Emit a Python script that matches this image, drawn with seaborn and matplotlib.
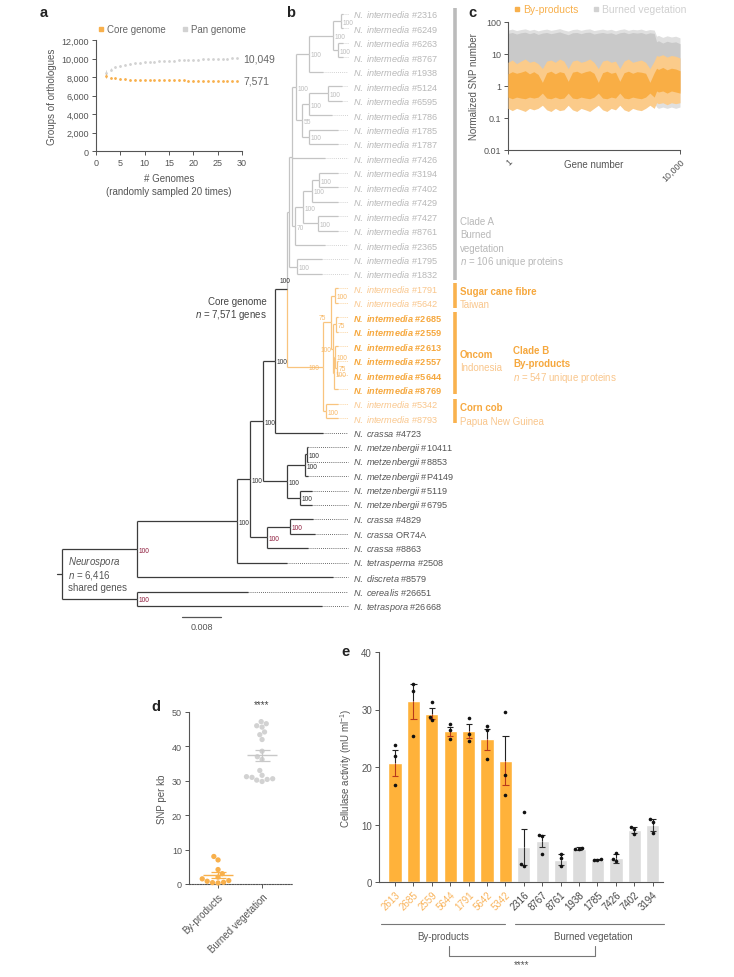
import numpy as np
import pandas as pd
import matplotlib
matplotlib.use("Agg")
import matplotlib.pyplot as plt
import seaborn as sns
from matplotlib.lines import Line2D

sns.set_theme(style="ticks")
plt.rcParams["font.family"] = ["Liberation Sans", "DejaVu Sans"]
plt.rcParams["mathtext.fontset"] = "custom"
plt.rcParams["mathtext.rm"] = "Liberation Sans"
plt.rcParams["mathtext.it"] = "Liberation Sans:italic"
plt.rcParams["mathtext.bf"] = "Liberation Sans:bold"
try:
    plt.rcParams["mathtext.bfit"] = "Liberation Sans:italic:bold"
except KeyError:
    pass

# ---------------- colours ----------------
ORANGE = "#FFB23A"
ORANGE_PT = "#F8B04C"
ORANGE_TREE = "#F9C47E"
ORANGE_TXT = "#F9C68C"
ORANGE_BOLD = "#F6A83E"
GREY_BAR = "#DCDCDC"
GREY_PT = "#D2D2D2"
GREY_TREE = "#C4C4C4"
GREY_TXT = "#B8B8B8"
DARK_TREE = "#3C3C3C"
MAROON = "#8E1C3C"
TICK = "#555555"
RED_ERR = "#B83A1A"

# ---------------- panel a data ----------------
A_GENOMES = [2, 3, 4, 5, 6, 7, 8, 9, 10, 11, 12, 13, 14, 15, 16, 17, 18, 19, 20, 21, 22, 23, 24, 25, 26, 27, 28, 29]
A_CORE = [8150, 7930, 7850, 7790, 7750, 7720, 7700, 7690, 7680, 7670, 7660, 7650, 7645, 7640,
          7635, 7630, 7625, 7620, 7615, 7610, 7605, 7600, 7595, 7590, 7585, 7580, 7575, 7571]
A_CORE_ERR = [220, 90, 60, 50, 40, 35, 30, 30, 25, 25, 25, 20, 20, 20, 20, 20, 20, 15, 15, 15, 15, 15, 15, 10, 10, 10, 10, 10]
A_PAN = [8450, 8800, 9050, 9200, 9320, 9410, 9480, 9540, 9590, 9630, 9670, 9700, 9730, 9760,
         9780, 9800, 9820, 9840, 9860, 9880, 9900, 9920, 9940, 9960, 9980, 10000, 10020, 10049]
A_PAN_ERR = [300, 160, 110, 90, 70, 60, 55, 50, 45, 40, 40, 35, 35, 30, 30, 30, 25, 25, 25, 25, 20, 20, 20, 20, 15, 15, 15, 10]

# ---------------- panel b data (tree) ----------------
LEAF_SPECIES = (["N. intermedia"] * 29 +
                ["N. crassa", "N. metzenbergii", "N. metzenbergii", "N. metzenbergii", "N. metzenbergii",
                 "N. metzenbergii", "N. crassa", "N. crassa", "N. crassa", "N. tetrasperma", "N. discreta",
                 "N. cerealis", "N. tetraspora"])
LEAF_IDS = ["#2316", "#6249", "#6263", "#8767", "#1938", "#5124", "#6595", "#1786", "#1785", "#1787",
            "#7426", "#3194", "#7402", "#7429", "#7427", "#8761", "#2365", "#1795", "#1832",
            "#1791", "#5642", "#2685", "#2559", "#2613", "#2557", "#5644", "#8769", "#5342", "#8793",
            "#4723", "#10411", "#8853", "#P4149", "#5119", "#6795", "#4829", "OR74A", "#8863",
            "#2508", "#8579", "#26651", "#26668"]
LEAF_STYLE = ["A"] * 19 + ["B", "B", "Bb", "Bb", "Bb", "Bb", "Bb", "Bb", "B", "B"] + ["D"] * 13
LEAF_END = [343, 343, 343, 343, 323, 342, 342, 332, 338, 338,
            325, 338, 338, 338, 338, 338, 325, 322, 322,
            338, 338, 338, 338, 338, 338, 338, 338, 338, 338,
            323, 308, 308, 308, 312, 312, 313, 315, 308, 287, 333, 248, 322]


def N(x, lab, grp, *kids, off=(2, 1)):
    return {"x": x, "lab": lab, "grp": grp, "kids": kids, "off": off}


CLADE_A = N(289, "", "A",
            N(292, "", "A",
              N(296, "100", "A",
                N(309, "100", "A", N(333, "100", "A", N(341, "100", "A", 0, 1), N(338, "100", "A", 2, 3)), 4),
                N(302, "55", "A", N(309, "100", "A", N(328, "100", "A", 5, 6), 7), N(309, "100", "A", 8, 9))),
              10,
              N(295, "70", "A",
                N(303, "100", "A", N(312, "100", "A", N(319, "100", "A", 11, 12), 13), N(318, "100", "A", 14, 15)),
                16)),
            N(297, "100", "A", 17, 18))
CLADE_B = N(323, "100", "B",
            N(331, "75", "B", N(335, "100", "B", 19, 20),
              N(333, "100", "B", N(336, "75", "B", 21, 22),
                N(334, "100", "B", N(335, "100", "B", 23, N(337, "75", "B", 24, 25)), 26), off=(-12, 1)),
              off=(-12, -5)),
            N(326, "100", "B", 27, 28), off=(-14, 1))
TREE = N(62, "", "D",
         N(137, "100", "M",
           N(237, "100", "D",
             N(250, "100", "D",
               N(263, "100", "D",
                 N(275, "100", "D", N(287, "100", "D", CLADE_A, CLADE_B, off=(-7, -9)), 29),
                 N(287, "100", "D", N(305, "100", "D", N(307, "100", "D", 30, 31), 32),
                   N(300, "100", "D", 33, 34))),
               N(267, "100", "M", N(290, "100", "M", 35, 36), 37)),
             38),
           39),
         N(137, "100", "M", 40, 41))

# ---------------- panel c data (SNP scatter envelopes) ----------------
C_X = [1, 250, 500, 750, 1000, 1250, 1500, 1750, 2000, 2250, 2500, 2750, 3000, 3250, 3500, 3750, 4000,
       4250, 4500, 4750, 5000, 5250, 5500, 5750, 6000, 6250, 6500, 6750, 7000, 7250, 7500, 7750, 8000,
       8250, 8500, 8640, 8750, 9000, 9250, 9500, 9750, 10000]
C_GREY_HI = [56, 60, 54, 58, 61, 55, 59, 53, 57, 60, 55, 58, 62, 56, 52, 58, 60, 55, 59, 61, 54,
             57, 60, 56, 59, 53, 58, 61, 55, 59, 57, 60, 54, 58, 56, 36, 38, 33, 37, 34, 36, 32]
C_GREY_DHI = [44, 47, 42, 46, 48, 43, 47, 41, 45, 47, 43, 46, 49, 44, 40, 46, 47, 43, 47, 48, 42,
              45, 47, 44, 46, 41, 46, 48, 43, 47, 45, 47, 42, 46, 44, 24, 26, 22, 25, 23, 24, 21]
C_GREY_DLO = [1.0, 1.0, 1.0, 1.0, 1.0, 1.0, 1.0, 1.0, 1.0, 1.0, 1.0, 1.0, 1.0, 1.0, 1.0, 1.0, 1.0,
              1.0, 1.0, 1.0, 1.0, 1.0, 1.0, 1.0, 1.0, 1.0, 1.0, 1.0, 1.0, 1.0, 1.0, 1.0, 1.0, 1.0,
              1.0, 0.7, 0.7, 0.7, 0.7, 0.7, 0.7, 0.7]
C_GREY_LO = [0.3, 0.28, 0.3, 0.32, 0.3, 0.28, 0.3, 0.3, 0.34, 0.3, 0.28, 0.3, 0.3, 0.3, 0.34, 0.3, 0.28,
             0.3, 0.3, 0.28, 0.3, 0.34, 0.3, 0.28, 0.3, 0.3, 0.34, 0.3, 0.28, 0.3, 0.3, 0.28, 0.3, 0.34,
             0.3, 0.22, 0.2, 0.22, 0.2, 0.22, 0.2, 0.22]
C_ORA_HI = [5.5, 6.5, 5.0, 6.0, 7.0, 5.5, 6.0, 5.0, 3.5, 6.0, 6.5, 5.5, 7.0, 6.0, 3.5, 6.0, 6.5,
            5.5, 6.0, 7.0, 5.5, 3.5, 6.0, 6.5, 5.5, 6.0, 3.5, 6.0, 7.0, 5.5, 6.0, 6.5, 5.5, 3.5,
            6.0, 9.0, 8.5, 9.5, 8.0, 9.0, 8.5, 7.5]
C_ORA_DHI = [2.4, 2.8, 2.5, 2.7, 3.0, 2.4, 2.8, 2.3, 1.3, 2.6, 2.9, 2.4, 2.8, 2.6, 1.4, 2.7, 2.9,
             2.5, 2.8, 3.0, 2.5, 1.3, 2.6, 2.9, 2.5, 2.7, 1.4, 2.6, 2.9, 2.5, 2.8, 2.7, 2.5, 1.3,
             2.6, 3.6, 3.3, 3.8, 3.2, 3.6, 3.4, 3.0]
C_ORA_DLO = [0.45, 0.4, 0.45, 0.42, 0.4, 0.45, 0.42, 0.45, 0.6, 0.42, 0.4, 0.45, 0.4, 0.42, 0.6, 0.42,
             0.4, 0.45, 0.42, 0.4, 0.45, 0.6, 0.42, 0.4, 0.45, 0.42, 0.6, 0.42, 0.4, 0.45, 0.42, 0.4,
             0.45, 0.6, 0.45, 0.7, 0.65, 0.7, 0.6, 0.7, 0.65, 0.6]
C_ORA_LO = [0.2, 0.17, 0.2, 0.18, 0.16, 0.2, 0.18, 0.2, 0.25, 0.18, 0.16, 0.2, 0.17, 0.18, 0.25, 0.18,
            0.16, 0.2, 0.18, 0.16, 0.2, 0.25, 0.18, 0.16, 0.2, 0.18, 0.25, 0.18, 0.16, 0.2, 0.18, 0.17,
            0.2, 0.25, 0.2, 0.3, 0.28, 0.3, 0.26, 0.3, 0.28, 0.3]

# ---------------- panel d data ----------------
D_GROUPS = ["By-products", "Burned vegetation"]
D_BYPRODUCTS = [8.0, 7.0, 4.2, 3.0, 2.0, 1.5, 1.0, 0.8, 0.5, 0.4, 0.3]
D_BURNED = [47.2, 46.6, 46.0, 45.6, 44.2, 43.4, 42.0, 38.6, 37.0, 36.2, 33.0, 31.6, 31.2, 31.0, 30.6, 30.2, 29.8, 30.4]

# ---------------- panel e data ----------------
E_STRAINS = ["2613", "2685", "2559", "5644", "1791", "5642", "5342",
             "2316", "8767", "8761", "1938", "1785", "7426", "7402", "3194"]
E_GROUP = ["By-products"] * 7 + ["Burned vegetation"] * 8
E_MEAN = [20.7, 31.4, 29.3, 26.2, 26.3, 24.8, 21.1, 6.1, 7.1, 3.9, 5.8, 3.9, 4.1, 9.1, 9.9]
E_ERR = [2.2, 3.1, 1.0, 0.8, 1.2, 1.8, 4.3, 3.1, 1.0, 1.0, 0.25, 0.1, 0.8, 0.5, 1.1]
E_REPS = [[23.9, 21.9, 16.9], [34.5, 33.2, 25.4], [31.3, 28.7, 28.2], [27.5, 26.4, 24.9],
          [28.6, 25.8, 24.5], [27.2, 26.4, 21.4], [29.6, 18.6, 15.1], [12.2, 3.2, 2.8],
          [8.1, 8.0, 4.9], [4.9, 4.1, 2.7], [6.0, 5.8, 5.7], [4.0, 3.9, 3.85],
          [5.0, 4.0, 3.6], [9.6, 9.2, 8.4], [11.0, 10.5, 8.6]]

# ================= figure =================
W, H = 734, 978
fig = plt.figure(figsize=(W / 100, H / 100), dpi=100)


def px_axes(x0, y0, x1, y1, **kw):
    return fig.add_axes([x0 / W, 1 - y1 / H, (x1 - x0) / W, (y1 - y0) / H], **kw)


def style_axes(ax, fs=6.5):
    sns.despine(ax=ax)
    for s in ("left", "bottom"):
        ax.spines[s].set_color(TICK)
        ax.spines[s].set_linewidth(0.8)
    ax.tick_params(colors=TICK, labelsize=fs, length=3, width=0.7, pad=2)


# overlay in pixel units (tree, annotations, panel letters)
ov = fig.add_axes([0, 0, 1, 1])
ov.set_xlim(0, W)
ov.set_ylim(H, 0)
ov.axis("off")
ov.patch.set_alpha(0)

for let, (x, y) in {"a": (44, 13), "b": (291, 13), "c": (472, 13), "d": (156, 707), "e": (346, 652)}.items():
    ov.text(x, y, let, fontsize=10.5, fontweight="bold", color="#222222", ha="center", va="center")

# ---------------- panel a ----------------
axa = px_axes(96, 41, 242, 152)
axa.errorbar(A_GENOMES, A_PAN, yerr=A_PAN_ERR, fmt="none", ecolor=GREY_PT, elinewidth=0.6)
axa.errorbar(A_GENOMES, A_CORE, yerr=A_CORE_ERR, fmt="none", ecolor=ORANGE_PT, elinewidth=0.6)
sns.scatterplot(x=A_GENOMES, y=A_PAN, ax=axa, marker="o", s=4, color=GREY_PT, linewidth=0)
sns.scatterplot(x=A_GENOMES, y=A_CORE, ax=axa, marker="o", s=4, color=ORANGE_PT, linewidth=0)
axa.set_xlim(0, 30)
axa.set_ylim(0, 12000)
axa.set_xticks([0, 5, 10, 15, 20, 25, 30])
axa.set_yticks([0, 2000, 4000, 6000, 8000, 10000, 12000])
axa.set_yticklabels([f"{v:,}" for v in [0, 2000, 4000, 6000, 8000, 10000, 12000]])
style_axes(axa)
axa.set_xlabel("# Genomes\n(randomly sampled 20 times)", fontsize=7, color=TICK, labelpad=4, linespacing=1.4)
axa.set_ylabel("Groups of orthologues", fontsize=7, color=TICK, labelpad=3)
axa.text(30.2, A_PAN[-1], f"{A_PAN[-1]:,}", fontsize=7.5, color="#666666", va="center", ha="left", clip_on=False)
axa.text(30.2, A_CORE[-1], f"{A_CORE[-1]:,}", fontsize=7.5, color="#666666", va="center", ha="left", clip_on=False)
ha = [Line2D([], [], marker="s", ls="", ms=2.5, color=ORANGE_PT), Line2D([], [], marker="s", ls="", ms=2.5, color=GREY_PT)]
axa.legend(ha, ["Core genome", "Pan genome"], ncol=2, loc="lower left", bbox_to_anchor=(-0.03, 1.0),
           frameon=False, fontsize=7, handletextpad=0.2, columnspacing=1.6, labelcolor="#666666",
           borderaxespad=0.2, handlelength=0.8)

# ---------------- panel b (tree) ----------------
LEAF_Y0, LEAF_DY, DOT_END, LABEL_X = 15, 14.44, 348, 353
LINE_COL = {"A": GREY_TREE, "B": ORANGE_TREE, "D": DARK_TREE, "M": DARK_TREE}
LAB_COL = {"A": "#BDBDBD", "B": "#F7B867", "D": "#333333", "M": MAROON}


def leaf_y(i):
    return LEAF_Y0 + i * LEAF_DY


def layout(node):
    if isinstance(node, int):
        return leaf_y(node)
    ys = [layout(k) for k in node["kids"]]
    node["y"] = (ys[0] + ys[-1]) / 2
    return node["y"]


def draw(node):
    for k in node["kids"]:
        if isinstance(k, int):
            ky, kx, col = leaf_y(k), LEAF_END[k], LINE_COL[node["grp"]]
            ov.plot([kx, DOT_END], [ky, ky], color=col, lw=0.6, ls=(0, (1, 1.5)))
        else:
            ky, kx, col = k["y"], k["x"], LINE_COL[k["grp"]]
            draw(k)
        ov.plot([node["x"], node["x"]], [node["y"], ky], color=col, lw=0.9, solid_capstyle="butt")
        ov.plot([node["x"], kx], [ky, ky], color=col, lw=0.9, solid_capstyle="butt")
    if node["lab"]:
        dx, dy = node["off"]
        ov.text(node["x"] + dx, node["y"] + dy, node["lab"], fontsize=4.8, color=LAB_COL[node["grp"]],
                ha="left", va="center")


layout(TREE)
draw(TREE)
ov.plot([57, TREE["x"]], [TREE["y"], TREE["y"]], color=DARK_TREE, lw=0.9)

for i, (sp, lid, st) in enumerate(zip(LEAF_SPECIES, LEAF_IDS, LEAF_STYLE)):
    sp_m = sp.replace(" ", r"\ ")
    if st == "Bb":
        txt, col, wt = r"$\mathbfit{" + sp_m + "}$ " + lid, ORANGE_BOLD, "bold"
    else:
        txt = r"$\mathit{" + sp_m + "}$ " + lid
        col = {"A": GREY_TXT, "B": ORANGE_TXT, "D": "#555555"}[st]
        wt = "normal"
    ov.text(LABEL_X, leaf_y(i), txt, fontsize=6.6, color=col, fontweight=wt, ha="left", va="center")

# clade bars and annotations
BAR_X = 455
ov.plot([BAR_X, BAR_X], [leaf_y(0) - 6, leaf_y(18) + 6], color="#BBBBBB", lw=2.6, solid_capstyle="butt")
for a, b in [(19, 20), (21, 26), (27, 28)]:
    ov.plot([BAR_X, BAR_X], [leaf_y(a) - 5, leaf_y(b) + 5], color="#F9B24E", lw=2.6, solid_capstyle="butt")
for j, t in enumerate(["Clade A", "Burned", "vegetation", "$n$ = 106 unique proteins"]):
    ov.text(460, 222 + j * 13.3, t, fontsize=7, color=GREY_TXT, va="center")
ov.text(460, 292, "Sugar cane fibre", fontsize=7, color=ORANGE_BOLD, fontweight="bold", va="center")
ov.text(460, 305, "Taiwan", fontsize=7, color=ORANGE_TXT, va="center")
ov.text(460, 355, "Oncom", fontsize=7, color=ORANGE_BOLD, fontweight="bold", va="center")
ov.text(460, 368, "Indonesia", fontsize=7, color=ORANGE_TXT, va="center")
ov.text(513, 351, "Clade B", fontsize=7, color=ORANGE_BOLD, fontweight="bold", va="center")
ov.text(513, 364, "By-products", fontsize=7, color=ORANGE_BOLD, fontweight="bold", va="center")
ov.text(513, 378, "$n$ = 547 unique proteins", fontsize=7, color=ORANGE_TXT, va="center")
ov.text(460, 408, "Corn cob", fontsize=7, color=ORANGE_BOLD, fontweight="bold", va="center")
ov.text(460, 422, "Papua New Guinea", fontsize=7, color=ORANGE_TXT, va="center")

ov.text(267, 302, "Core genome", fontsize=7, color="#444444", ha="right", va="center")
ov.text(267, 315, "$n$ = 7,571 genes", fontsize=7, color="#444444", ha="right", va="center")
ov.text(68, 562, "$\\mathit{Neurospora}$", fontsize=7, color="#555555", va="center")
ov.text(68, 575, "$n$ = 6,416", fontsize=7, color="#555555", va="center")
ov.text(68, 588, "shared genes", fontsize=7, color="#555555", va="center")
ov.plot([182, 221], [618, 618], color="#555555", lw=0.9)
ov.text(201.5, 628, "0.008", fontsize=6.5, color="#555555", ha="center", va="center")

# ---------------- panel c ----------------
axc = px_axes(508, 23, 680, 151)
axc.fill_between(C_X, C_GREY_LO, C_GREY_HI, color="#E0E0E0", lw=0, zorder=1)
axc.fill_between(C_X, C_GREY_DLO, C_GREY_DHI, color="#C9C9C9", lw=0, zorder=2)
axc.fill_between(C_X, C_ORA_LO, C_ORA_HI, color="#FBCB8A", lw=0, zorder=3)
axc.fill_between(C_X, C_ORA_DLO, C_ORA_DHI, color="#F9AE45", lw=0, zorder=4)
axc.set_yscale("log")
axc.set_ylim(0.01, 100)
axc.set_xlim(1, 10000)
axc.set_yticks([0.01, 0.1, 1, 10, 100])
axc.set_yticklabels(["0.01", "0.1", "1", "10", "100"])
axc.minorticks_off()
axc.set_xticks([1, 10000])
axc.set_xticklabels(["1", "10,000"], rotation=45, ha="right", rotation_mode="anchor")
style_axes(axc)
axc.set_ylabel("Normalized SNP number", fontsize=7, color=TICK, labelpad=3)
axc.text(0.5, -0.11, "Gene number", transform=axc.transAxes, fontsize=7, color=TICK, ha="center", va="center")
hc = [Line2D([], [], marker="s", ls="", ms=2.5, color=ORANGE_PT), Line2D([], [], marker="s", ls="", ms=2.5, color=GREY_PT)]
axc.legend(hc, ["By-products", "Burned vegetation"], ncol=2, loc="lower left", bbox_to_anchor=(0.0, 1.02),
           frameon=False, fontsize=7.5, handletextpad=0.2, columnspacing=1.2,
           labelcolor=[ORANGE_PT, "#D0D0D0"], borderaxespad=0.1, handlelength=0.8)

# ---------------- panel d ----------------
axd = px_axes(189, 713, 292, 885)
dfd = pd.DataFrame({"group": [D_GROUPS[0]] * len(D_BYPRODUCTS) + [D_GROUPS[1]] * len(D_BURNED),
                    "snp": D_BYPRODUCTS + D_BURNED})
sns.swarmplot(data=dfd, x="group", y="snp", hue="group", order=D_GROUPS,
              palette={D_GROUPS[0]: ORANGE_PT, D_GROUPS[1]: GREY_PT}, size=3.8, legend=False, ax=axd, clip_on=False)
for i, (vals, col) in enumerate([(D_BYPRODUCTS, ORANGE_PT), (D_BURNED, "#C8C8C8")]):
    m = np.mean(vals)
    se = np.std(vals, ddof=1) / np.sqrt(len(vals))
    axd.hlines(m, i - 0.34, i + 0.34, color=col, lw=1.0, zorder=5)
    axd.hlines([m - se, m + se], i - 0.17, i + 0.17, color=col, lw=0.9, zorder=5)
    axd.vlines(i, m - se, m + se, color=col, lw=0.9, zorder=5)
axd.set_xlim(-0.66, 1.68)
axd.set_ylim(0, 50)
axd.set_yticks([0, 10, 20, 30, 40, 50])
style_axes(axd, fs=6.5)
axd.spines["bottom"].set_linestyle((0, (1.2, 1.2)))
axd.set_xlabel("")
axd.set_ylabel("SNP per kb", fontsize=7, color=TICK, labelpad=4)
axd.set_xticks([0, 1])
axd.set_xticklabels(D_GROUPS, rotation=45, ha="right", rotation_mode="anchor", fontsize=7)
axd.text(1, 52.3, "****", ha="center", va="center", fontsize=7, color="#444444", clip_on=False)

# ---------------- panel e ----------------
axe = px_axes(379, 653, 663, 883)
cols_e = [ORANGE if g == "By-products" else GREY_BAR for g in E_GROUP]
sns.barplot(x=E_STRAINS, y=E_MEAN, hue=E_STRAINS, palette=dict(zip(E_STRAINS, cols_e)),
            order=E_STRAINS, width=0.72, legend=False, ax=axe, errorbar=None, saturation=1)
for i, (m, e, g) in enumerate(zip(E_MEAN, E_ERR, E_GROUP)):
    low_col = RED_ERR if g == "By-products" else "#333333"
    axe.vlines(i, m, m + e, color="#222222", lw=0.8, zorder=5)
    axe.vlines(i, m - e, m, color=low_col, lw=0.8, zorder=5)
    axe.hlines(m + e, i - 0.17, i + 0.17, color="#222222", lw=0.8, zorder=5)
    axe.hlines(m - e, i - 0.17, i + 0.17, color=low_col, lw=0.8, zorder=5)
dfe = pd.DataFrame({"strain": [s for s, r in zip(E_STRAINS, E_REPS) for _ in r],
                    "act": [v for r in E_REPS for v in r]})
sns.swarmplot(data=dfe, x="strain", y="act", order=E_STRAINS, color="#111111", size=2.6, ax=axe, zorder=6)
axe.set_xlim(-0.87, 14.56)
axe.set_ylim(0, 40)
axe.set_yticks([0, 10, 20, 30, 40])
style_axes(axe, fs=7)
axe.set_xlabel("")
axe.set_ylabel("Cellulase activity (mU ml$^{-1}$)", fontsize=7, color=TICK, labelpad=5)
axe.set_xticks(range(len(E_STRAINS)))
axe.set_xticklabels(E_STRAINS, rotation=45, ha="right", rotation_mode="anchor", fontsize=7)
for lab, g in zip(axe.get_xticklabels(), E_GROUP):
    lab.set_color("#F9B45C" if g == "By-products" else "#444444")
tr = axe.get_xaxis_transform()
axe.plot([-0.76, 5.98], [-0.181, -0.181], transform=tr, clip_on=False, color="#777777", lw=0.8)
axe.plot([6.52, 14.62], [-0.181, -0.181], transform=tr, clip_on=False, color="#777777", lw=0.8)
axe.text(2.6, -0.233, "By-products", transform=tr, ha="center", va="center", fontsize=7, color="#555555")
axe.text(10.8, -0.233, "Burned vegetation", transform=tr, ha="center", va="center", fontsize=7, color="#555555")
axe.plot([2.93, 2.93, 10.87, 10.87], [-0.277, -0.32, -0.32, -0.277], transform=tr, clip_on=False,
         color="#777777", lw=0.8)
axe.text(6.9, -0.355, "****", transform=tr, ha="center", va="center", fontsize=7, color="#555555")

fig.savefig("out.png", dpi=100)
